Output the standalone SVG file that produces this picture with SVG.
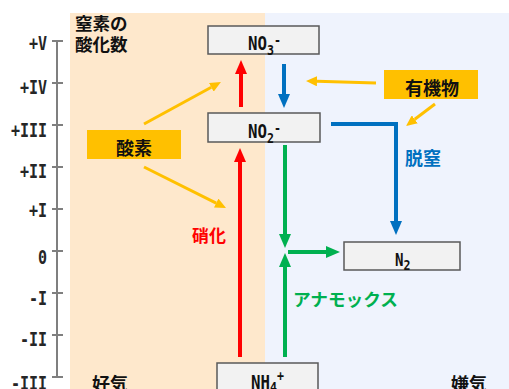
<svg xmlns="http://www.w3.org/2000/svg" width="509" height="389" viewBox="0 0 509 389">
<style>
.ax{font-family:"DejaVu Sans Mono","Liberation Mono",monospace;font-weight:bold;font-size:19px;fill:#262626;text-anchor:end}
.fm{font-family:"DejaVu Sans Mono","Liberation Mono",monospace;font-weight:bold;font-size:19px;fill:#111}
.sb{font-size:14px}
.jp{font-family:"Noto Sans CJK JP",sans-serif;font-weight:bold;font-size:18px}
.box{fill:#F2F2F2;stroke:#595959;stroke-width:1.5}
.tag{fill:#FFC000}
.tick{stroke:#7F7F7F;stroke-width:2}
.red{stroke:#FF0000;stroke-width:4;fill:none}
.blue{stroke:#0070C0;stroke-width:4;fill:none}
.green{stroke:#00B050;stroke-width:4;fill:none}
.org{stroke:#FFC000;stroke-width:3;fill:none}
</style>
<defs>
<marker id="hr" markerUnits="userSpaceOnUse" markerWidth="14" markerHeight="12" viewBox="0 0 14 12" refX="0" refY="6" orient="auto"><path d="M0,0L14,6L0,12z" fill="#FF0000"/></marker>
<marker id="hb" markerUnits="userSpaceOnUse" markerWidth="14" markerHeight="12" viewBox="0 0 14 12" refX="0" refY="6" orient="auto"><path d="M0,0L14,6L0,12z" fill="#0070C0"/></marker>
<marker id="hg" markerUnits="userSpaceOnUse" markerWidth="14" markerHeight="12" viewBox="0 0 14 12" refX="0" refY="6" orient="auto"><path d="M0,0L14,6L0,12z" fill="#00B050"/></marker>
<marker id="ho" markerUnits="userSpaceOnUse" markerWidth="11" markerHeight="10" viewBox="0 0 11 10" refX="0" refY="5" orient="auto"><path d="M0,0L11,5L0,10z" fill="#FFC000"/></marker>
</defs>
<rect width="509" height="389" fill="#FFFFFF"/>
<rect id="aerobic-zone" x="70" y="13" width="195" height="376" fill="#FEE8CC"/>
<rect id="anaerobic-zone" x="265" y="13" width="244" height="376" fill="#EFF3FD"/>

<g id="axis">
<line class="tick" x1="57" y1="41" x2="57" y2="377"/>
<path class="tick" d="M52,41H63M52,83H63M52,125H63M52,167H63M52,209H63M52,251H63M52,293H63M52,335H63M52,377H63"/>
<text class="ax" transform="translate(47,50) scale(0.79,1)">+V</text>
<text class="ax" transform="translate(47,94) scale(0.79,1)">+IV</text>
<text class="ax" transform="translate(47,137) scale(0.79,1)">+III</text>
<text class="ax" transform="translate(47,178) scale(0.79,1)">+II</text>
<text class="ax" transform="translate(47,217) scale(0.79,1)">+I</text>
<text class="ax" transform="translate(47,264) scale(0.79,1)">0</text>
<text class="ax" transform="translate(47,305) scale(0.79,1)">-I</text>
<text class="ax" transform="translate(47,346) scale(0.79,1)">-II</text>
<text class="ax" transform="translate(47,390) scale(0.79,1)">-III</text>
</g>

<g id="title">
<text class="jp" x="75" y="30" fill="#111" style="font-size:17.5px">窒素の</text>
<text class="jp" x="75" y="51" fill="#111" style="font-size:17.5px">酸化数</text>
</g>

<g id="connectors">
<line class="red" x1="241" y1="107" x2="241" y2="74" marker-end="url(#hr)"/>
<line class="red" x1="240" y1="357" x2="240" y2="162" marker-end="url(#hr)"/>
<line class="blue" x1="284" y1="64" x2="284" y2="94" marker-end="url(#hb)"/>
<polyline class="blue" points="331,124 396,124 396,221" marker-end="url(#hb)"/>
<line class="green" x1="285" y1="145" x2="285" y2="234" marker-end="url(#hg)"/>
<line class="green" x1="285" y1="357" x2="285" y2="267" marker-end="url(#hg)"/>
<line class="green" x1="288" y1="252" x2="326" y2="252" marker-end="url(#hg)"/>
<line class="org" x1="144" y1="124" x2="211.3" y2="87.3" marker-end="url(#ho)"/>
<line class="org" x1="144" y1="167" x2="216.2" y2="203.1" marker-end="url(#ho)"/>
<line class="org" x1="376" y1="83" x2="317" y2="81.3" marker-end="url(#ho)"/>
<line class="org" x1="435" y1="104" x2="414.8" y2="119.3" marker-end="url(#ho)"/>
</g>

<g id="NO3">
<rect class="box" x="208" y="26" width="111" height="28"/>
<text class="fm" transform="translate(248,50) scale(0.83,1)">NO<tspan class="sb" dy="5">3</tspan><tspan class="sb" dy="-10">-</tspan></text>
</g>
<g id="NO2">
<rect class="box" x="208" y="113" width="112" height="29"/>
<text class="fm" transform="translate(248,138) scale(0.83,1)">NO<tspan class="sb" dy="5">2</tspan><tspan class="sb" dy="-10">-</tspan></text>
</g>
<g id="N2">
<rect class="box" x="344" y="242" width="116" height="28"/>
<text class="fm" transform="translate(395,266) scale(0.83,1)" style="font-size:17px">N<tspan class="sb" dy="4">2</tspan></text>
</g>
<g id="NH4">
<rect class="box" x="217" y="363" width="101" height="30"/>
<text class="fm" transform="translate(251,389) scale(0.83,1)">NH<tspan class="sb" dy="3">4</tspan><tspan class="sb" dy="-11">+</tspan></text>
</g>

<g id="oxygen">
<rect class="tag" x="87" y="130" width="94" height="29"/>
<text class="jp" x="134" y="155" text-anchor="middle" fill="#111">酸素</text>
</g>
<g id="organic">
<rect class="tag" x="384" y="70" width="94" height="29"/>
<text class="jp" x="432" y="95" text-anchor="middle" fill="#111">有機物</text>
</g>

<g id="labels">
<text class="jp" x="405" y="165" fill="#0070C0">脱窒</text>
<text class="jp" x="192" y="242" fill="#FF0000" style="font-size:17px">硝化</text>
<text class="jp" x="293" y="306" fill="#00B050" style="font-size:17.5px" textLength="105" lengthAdjust="spacingAndGlyphs">アナモックス</text>
<text class="jp" x="92" y="391" fill="#111">好気</text>
<text class="jp" x="451" y="391" fill="#111">嫌気</text>
</g>
</svg>
